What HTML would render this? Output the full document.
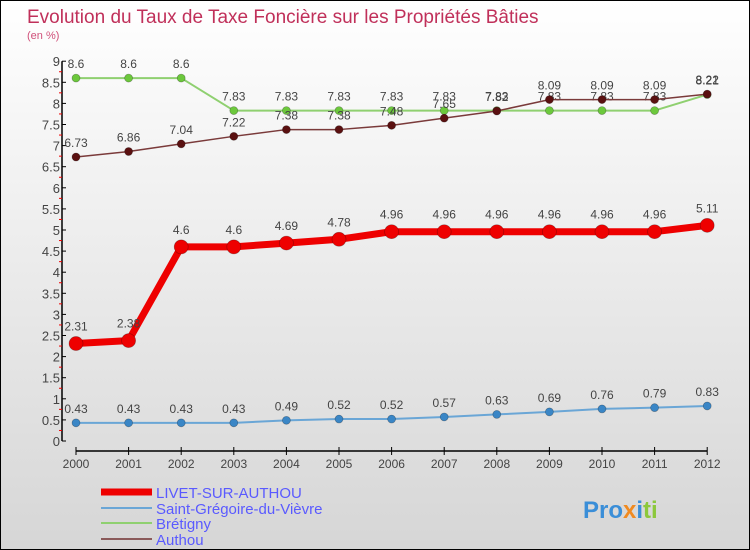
<!DOCTYPE html>
<html><head><meta charset="utf-8"><style>
body{margin:0}
#c{width:748px;height:548px;border:1px solid #000;background:linear-gradient(#fff,#d6d6d6);position:relative;overflow:hidden;font-family:"Liberation Sans",sans-serif}
</style></head><body>
<div id="c">
<svg id="s" width="748" height="548" xmlns="http://www.w3.org/2000/svg">
<text x="26" y="22" font-size="19" fill="#c0305a">Evolution du Taux de Taxe Foncière sur les Propriétés Bâties</text>
<text x="26" y="38" font-size="11" fill="#d0507a">(en %)</text>
<g id="axes"></g><g id="series"></g>
<g>
<line x1="100" y1="491" x2="151" y2="491" stroke="#e00" stroke-width="7"/>
<text x="155" y="497" font-size="15" fill="#5a5aff">LIVET-SUR-AUTHOU</text>
<line x1="100" y1="507" x2="151" y2="507" stroke="#6aa6d6" stroke-width="2"/>
<text x="155" y="513" font-size="15" fill="#5a5aff">Saint-Grégoire-du-Vièvre</text>
<line x1="100" y1="522" x2="151" y2="522" stroke="#8fd070" stroke-width="2"/>
<text x="155" y="528" font-size="15" fill="#5a5aff">Brétigny</text>
<line x1="100" y1="538" x2="151" y2="538" stroke="#8a5a5a" stroke-width="2"/>
<text x="155" y="544" font-size="15" fill="#5a5aff">Authou</text>
</g>
<text x="582" y="517" font-size="24" font-weight="bold"><tspan fill="#3a8ed8">Pro</tspan><tspan fill="#f08a20">x</tspan><tspan fill="#3a8ed8">i</tspan><tspan fill="#8cc83c">ti</tspan></text>
</svg></div>
<script>
const years=[2000,2001,2002,2003,2004,2005,2006,2007,2008,2009,2010,2011,2012];
const yTicks=[0,0.5,1,1.5,2,2.5,3,3.5,4,4.5,5,5.5,6,6.5,7,7.5,8,8.5,9];
const livet=[2.31,2.38,4.6,4.6,4.69,4.78,4.96,4.96,4.96,4.96,4.96,4.96,5.11];
const livetLabels=["2.31","2.38","4.6","4.6","4.69","4.78","4.96","4.96","4.96","4.96","4.96","4.96","5.11"];
const saint=[0.43,0.43,0.43,0.43,0.49,0.52,0.52,0.57,0.63,0.69,0.76,0.79,0.83];
const bretigny=[8.6,8.6,8.6,7.83,7.83,7.83,7.83,7.83,7.83,7.83,7.83,7.83,8.21];
const authou=[6.73,6.86,7.04,7.22,7.38,7.38,7.48,7.65,7.82,8.09,8.09,8.09,8.22];
const NS="http://www.w3.org/2000/svg";
const X=i=>75+i*52.6, Y=v=>440-v*42.2;
function el(p,t,a){const e=document.createElementNS(NS,t);for(const k in a)e.setAttribute(k,a[k]);p.appendChild(e);return e;}
const ax=document.getElementById('axes'),sg=document.getElementById('series');
let a=el(ax,'line',{x1:61,y1:Y(9),x2:61,y2:440,stroke:'#000','stroke-width':1.5});


yTicks.forEach((v,i)=>{
 const t=el(ax,'line',{x1:61,y1:Y(v),x2:65,y2:Y(v),stroke:'#000'});
 
 
 if(i<yTicks.length-1){
 const m=el(ax,'line',{x1:58,y1:Y(v+0.25),x2:61,y2:Y(v+0.25),stroke:'#e00'});
 
 
 }
 const l=el(ax,'text',{x:59,y:Y(v)+5,'font-size':13,fill:'#444','text-anchor':'end'});
 l.textContent=String(v);
 
 
});
a=el(ax,'line',{x1:X(0),y1:450,x2:X(12),y2:450,stroke:'#000','stroke-width':1.5});


years.forEach((y,i)=>{
 const t=el(ax,'line',{x1:X(i),y1:446,x2:X(i),y2:454,stroke:'#000'});
 
 
 const l=el(ax,'text',{x:X(i),y:467,'font-size':12,fill:'#444','text-anchor':'middle'});
 l.textContent=String(y);
 
 
});
function series(name,vals,labels,color,w,r,fill){
 const g=el(sg,'g',{});
 
 
 const p=el(g,'polyline',{points:vals.map((v,i)=>X(i)+','+Y(v)).join(' '),fill:'none',stroke:color,'stroke-width':w,'stroke-linejoin':'round'});
 
 
 vals.forEach((v,i)=>{
  const c=el(g,'circle',{cx:X(i),cy:Y(v),r:r,fill:fill,stroke:'rgba(0,0,0,0.3)','stroke-width':0.7});
  
  
  const t=el(g,'text',{x:X(i),y:Y(v)-(r+6),'font-size':12,fill:'#444','text-anchor':'middle'});
  t.textContent=labels?labels[i]:String(v);
  
  
 });
}
series('saint-gregoire',saint,null,'#6aa6d6',2,4,'#3a86c6');
series('bretigny',bretigny,null,'#8fd070',2,4,'#6cc83c');
series('authou',authou,null,'#7a3a3a',1.5,4,'#5a1010');
series('livet',livet,livetLabels,'#ee0000',7,7,'#ee0000');
</script>
</body></html>
